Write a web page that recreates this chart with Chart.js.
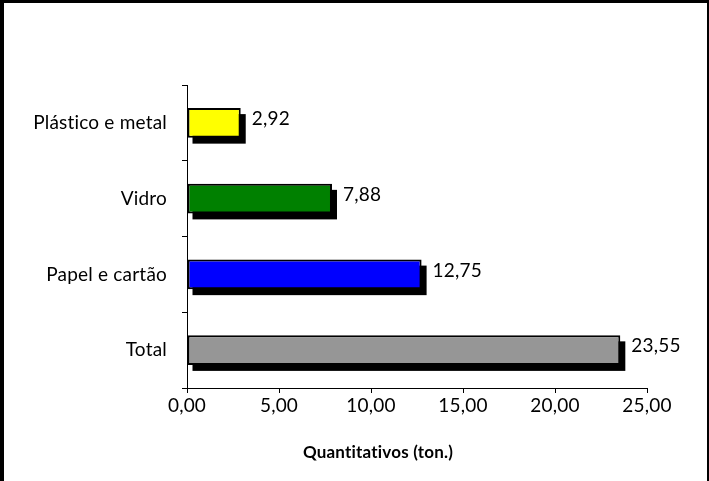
<!DOCTYPE html>
<html>
<head>
<meta charset="utf-8">
<script src="https://cdn.jsdelivr.net/npm/chart.js@4/dist/chart.umd.min.js"></script>
<style>
  html, body { margin: 0; padding: 0; background: #ffffff; }
  canvas { display: block; }
</style>
</head>
<body>
<canvas id="c" width="709" height="481"></canvas>
<script>
const categories = ['Plástico e metal', 'Vidro', 'Papel e cartão', 'Total'];
const values = [2.92, 7.88, 12.75, 23.55];
const barColors = ['#ffff00', '#008000', '#0000ff', '#969696'];
const axisTitle = 'Quantitativos (ton.)';
const xMin = 0, xMax = 25, xStep = 5;

const fmt = v => Number(v).toFixed(2).replace('.', ',');
const FONT = 'Lato, "Open Sans", sans-serif';

const framePlugin = {
  id: 'frame',
  beforeDraw(chart) {
    const ctx = chart.ctx;
    ctx.save();
    ctx.fillStyle = '#ffffff';
    ctx.fillRect(0, 0, chart.width, chart.height);
    ctx.fillStyle = '#000000';
    ctx.fillRect(0, 0, 4, chart.height);
    ctx.fillRect(0, 0, chart.width, 3);
    ctx.fillRect(chart.width - 2, 0, 2, chart.height);
    ctx.restore();
    if ('letterSpacing' in ctx) ctx.letterSpacing = '0.2px';
  }
};

const shadowPlugin = {
  id: 'barShadow',
  beforeDatasetsDraw(chart) {
    const ctx = chart.ctx;
    const meta = chart.getDatasetMeta(0);
    ctx.save();
    ctx.fillStyle = '#000000';
    meta.data.forEach(bar => {
      const p = bar.getProps(['x', 'y', 'base', 'height'], true);
      const left = Math.min(p.x, p.base);
      const w = Math.abs(p.x - p.base);
      ctx.fillRect(left + 5, p.y - p.height / 2 + 6, w, p.height);
    });
    ctx.restore();
  }
};

const labelPlugin = {
  id: 'valueLabels',
  afterDatasetsDraw(chart) {
    const ctx = chart.ctx;
    const meta = chart.getDatasetMeta(0);
    ctx.save();
    ctx.font = '19px ' + FONT;
    ctx.fillStyle = '#000000';
    ctx.textAlign = 'left';
    ctx.textBaseline = 'middle';
    meta.data.forEach((bar, i) => {
      ctx.fillText(fmt(values[i]), bar.x + 11, bar.y - 4);
    });
    const xs = chart.scales.x;
    ctx.font = 'bold 17px ' + FONT;
    ctx.textAlign = 'center';
    ctx.fillText(axisTitle, 378, xs.bottom - 28);
    ctx.restore();
  }
};

new Chart(document.getElementById('c'), {
  type: 'bar',
  data: {
    labels: categories,
    datasets: [{
      data: values,
      backgroundColor: barColors,
      borderColor: '#000000',
      borderWidth: 2,
      borderSkipped: false,
      barPercentage: 0.39,
      categoryPercentage: 1.0
    }]
  },
  options: {
    indexAxis: 'y',
    responsive: false,
    animation: false,
    devicePixelRatio: 1,
    layout: { padding: { left: 0, top: 85, right: 62, bottom: 0 } },
    plugins: { legend: { display: false }, tooltip: { enabled: false }, title: { display: false } },
    scales: {
      x: {
        min: xMin, max: xMax,
        afterFit(s) { s.height = 93; },
        border: { color: '#000000', width: 1 },
        grid: { drawOnChartArea: false, drawTicks: true, tickLength: 5, color: '#000000' },
        ticks: {
          stepSize: xStep,
          color: '#000000',
          padding: 1,
          maxRotation: 0,
          font: { family: FONT, size: 19 },
          callback: v => fmt(v)
        }
      },
      y: {
        afterFit(s) { s.width = 187; },
        border: { color: '#000000', width: 1 },
        grid: { drawOnChartArea: false, drawTicks: true, tickLength: 5, color: '#000000', offset: true },
        ticks: {
          color: '#000000',
          padding: 15,
          font: { family: FONT, size: 19 }
        }
      }
    }
  },
  plugins: [framePlugin, shadowPlugin, labelPlugin]
});
</script>
</body>
</html>
